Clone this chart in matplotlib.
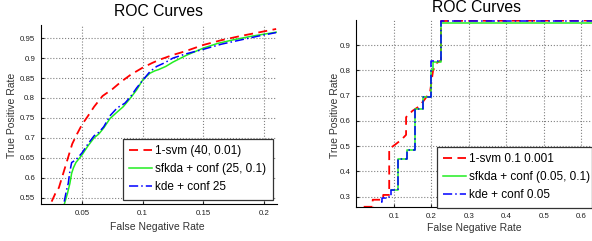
import matplotlib.pyplot as plt

plt.rcParams['font.family'] = ['Liberation Sans', 'DejaVu Sans']

# Left panel data (False Negative Rate vs True Positive Rate)
svm_l_x = [0.025, 0.028, 0.031, 0.035, 0.038, 0.042, 0.046, 0.050, 0.055, 0.060,
           0.067, 0.075, 0.082, 0.090, 0.100, 0.108, 0.114, 0.125, 0.135, 0.150,
           0.165, 0.180, 0.195, 0.210]
svm_l_y = [0.540, 0.560, 0.575, 0.615, 0.645, 0.685, 0.710, 0.733, 0.755, 0.778,
           0.805, 0.822, 0.840, 0.858, 0.876, 0.888, 0.896, 0.908, 0.917, 0.933,
           0.945, 0.955, 0.964, 0.973]
sfk_l_x = [0.0354, 0.038, 0.040, 0.0415, 0.043, 0.045, 0.050, 0.055, 0.060, 0.064,
           0.068, 0.073, 0.078, 0.084, 0.090, 0.095, 0.100, 0.106, 0.110, 0.113,
           0.119, 0.125, 0.136, 0.150, 0.162, 0.175, 0.190, 0.210]
sfk_l_y = [0.533, 0.560, 0.585, 0.611, 0.625, 0.638, 0.657, 0.680, 0.700, 0.710,
           0.725, 0.748, 0.762, 0.778, 0.800, 0.820, 0.845, 0.862, 0.868, 0.871,
           0.879, 0.890, 0.907, 0.925, 0.937, 0.946, 0.955, 0.965]
kde_l_x = [0.0354, 0.037, 0.0387, 0.040, 0.0415, 0.045, 0.050, 0.055, 0.060, 0.064,
           0.068, 0.073, 0.079, 0.0854, 0.090, 0.095, 0.1005, 0.106, 0.1115, 0.118,
           0.125, 0.135, 0.150, 0.165, 0.180, 0.195, 0.210]
kde_l_y = [0.540, 0.565, 0.586, 0.615, 0.638, 0.645, 0.662, 0.685, 0.705, 0.714,
           0.728, 0.755, 0.775, 0.787, 0.803, 0.825, 0.846, 0.866, 0.879, 0.888,
           0.900, 0.910, 0.922, 0.935, 0.945, 0.955, 0.964]

# Right panel data
svm_r_x = [0.020, 0.044, 0.044, 0.072, 0.072, 0.088, 0.088, 0.100, 0.120, 0.133,
           0.133, 0.150, 0.166, 0.180, 0.197, 0.205, 0.215, 0.226, 0.226, 0.300,
           0.700]
svm_r_y = [0.260, 0.260, 0.288, 0.288, 0.307, 0.307, 0.490, 0.502, 0.525, 0.545,
           0.615, 0.640, 0.656, 0.680, 0.715, 0.800, 0.830, 0.840, 0.996, 0.997,
           0.998]
sfk_r_x = [0.093, 0.111, 0.135, 0.157, 0.177, 0.200, 0.204, 0.226, 0.700]
sfk_r_y = [0.325, 0.448, 0.485, 0.649, 0.695, 0.800, 0.835, 0.988, 0.988]
kde_r_x = [0.065, 0.070, 0.080, 0.093, 0.111, 0.135, 0.157, 0.177, 0.200, 0.226, 0.700]
kde_r_y = [0.280, 0.294, 0.300, 0.325, 0.448, 0.485, 0.649, 0.695, 0.836, 0.995, 0.995]

left_labels = ["1-svm (40, 0.01)", "sfkda + conf (25, 0.1)", "kde + conf 25"]
right_labels = ["1-svm 0.1 0.001", "sfkda + conf (0.05, 0.1)", "kde + conf 0.05"]

W, H = 592, 241
fig = plt.figure(figsize=(W / 100, H / 100), dpi=100)


def px_axes(x0, y0, x1, y1):
    return fig.add_axes([x0 / W, 1 - y1 / H, (x1 - x0) / W, (y1 - y0) / H])


def style(ax):
    for s in ("top", "right"):
        ax.spines[s].set_visible(False)
    for s in ("left", "bottom"):
        ax.spines[s].set_linewidth(0.8)
    ax.grid(True, linestyle=":", color="#808080", linewidth=0.8)
    ax.tick_params(direction="in", length=2, labelsize=5.7, colors="#222222", pad=4)


ax1 = px_axes(40.7, 25, 277, 204)
ax1.plot(svm_l_x, svm_l_y, color="red", linestyle=(0, (5, 3)), lw=1.3, label=left_labels[0])
ax1.plot(sfk_l_x, sfk_l_y, color="#22ee22", lw=1.1, label=left_labels[1])
ax1.plot(kde_l_x, kde_l_y, color="blue", linestyle=(0, (6, 2, 1, 2)), lw=1.1, label=left_labels[2])
ax1.set_xlim(0.016, 0.2107)
ax1.set_ylim(0.534, 0.983)
ax1.set_xticks([0.05, 0.1, 0.15, 0.2])
ax1.set_xticklabels(["0.05", "0.1", "0.15", "0.2"])
ax1.set_yticks([0.55, 0.6, 0.65, 0.7, 0.75, 0.8, 0.85, 0.9, 0.95])
ax1.set_yticklabels(["0.55", "0.6", "0.65", "0.7", "0.75", "0.8", "0.85", "0.9", "0.95"])
style(ax1)

ax2 = px_axes(356.2, 20, 618.7, 207.3)
ax2.plot(svm_r_x, svm_r_y, color="red", linestyle=(0, (5, 3)), lw=1.3, label=right_labels[0])
ax2.step(sfk_r_x, sfk_r_y, where="post", color="#22ee22", lw=1.1, label=right_labels[1])
ax2.step(kde_r_x, kde_r_y, where="post", color="blue", linestyle=(0, (6, 2, 1, 2)), lw=1.1,
         label=right_labels[2])
ax2.set_xlim(0.0, 0.7)
ax2.set_ylim(0.258, 1.0)
ax2.set_xticks([0.1, 0.2, 0.3, 0.4, 0.5, 0.6])
ax2.set_xticklabels(["0.1", "0.2", "0.3", "0.4", "0.5", "0.6"])
ax2.set_yticks([0.3, 0.4, 0.5, 0.6, 0.7, 0.8, 0.9])
ax2.set_yticklabels(["0.3", "0.4", "0.5", "0.6", "0.7", "0.8", "0.9"])
style(ax2)

for ax, (x0, y0, x1, y1) in ((ax1, (122.7, 139, 273.3, 198.3)), (ax2, (437, 147, 591.5, 203))):
    leg = ax.legend(loc="upper left", bbox_to_anchor=(x0 / W, 1 - y1 / H, (x1 - x0) / W, (y1 - y0) / H),
                    bbox_transform=fig.transFigure, mode="expand", fontsize=8.5, frameon=True,
                    fancybox=False, edgecolor="#333333", framealpha=1, borderpad=0.55,
                    labelspacing=0.5, handlelength=1.9, handletextpad=0.3, borderaxespad=0)
    leg.get_frame().set_linewidth(0.9)

fig.text(158 / W, 1 - 11 / H, "ROC Curves", ha="center", va="center", fontsize=11.3)
fig.text(476 / W, 1 - 8 / H, "ROC Curves", ha="center", va="center", fontsize=11.3)
fig.text(157 / W, 1 - 227 / H, "False Negative Rate", ha="center", va="center", fontsize=7.5,
         color="#333333")
fig.text(474 / W, 1 - 228 / H, "False Negative Rate", ha="center", va="center", fontsize=7.5,
         color="#333333")
fig.text(12 / W, 1 - 115 / H, "True Positive Rate", ha="center", va="center", fontsize=7.5,
         rotation=90, color="#333333")
fig.text(335 / W, 1 - 115 / H, "True Positive Rate", ha="center", va="center", fontsize=7.5,
         rotation=90, color="#333333")

fig.savefig("out.png", dpi=100)
